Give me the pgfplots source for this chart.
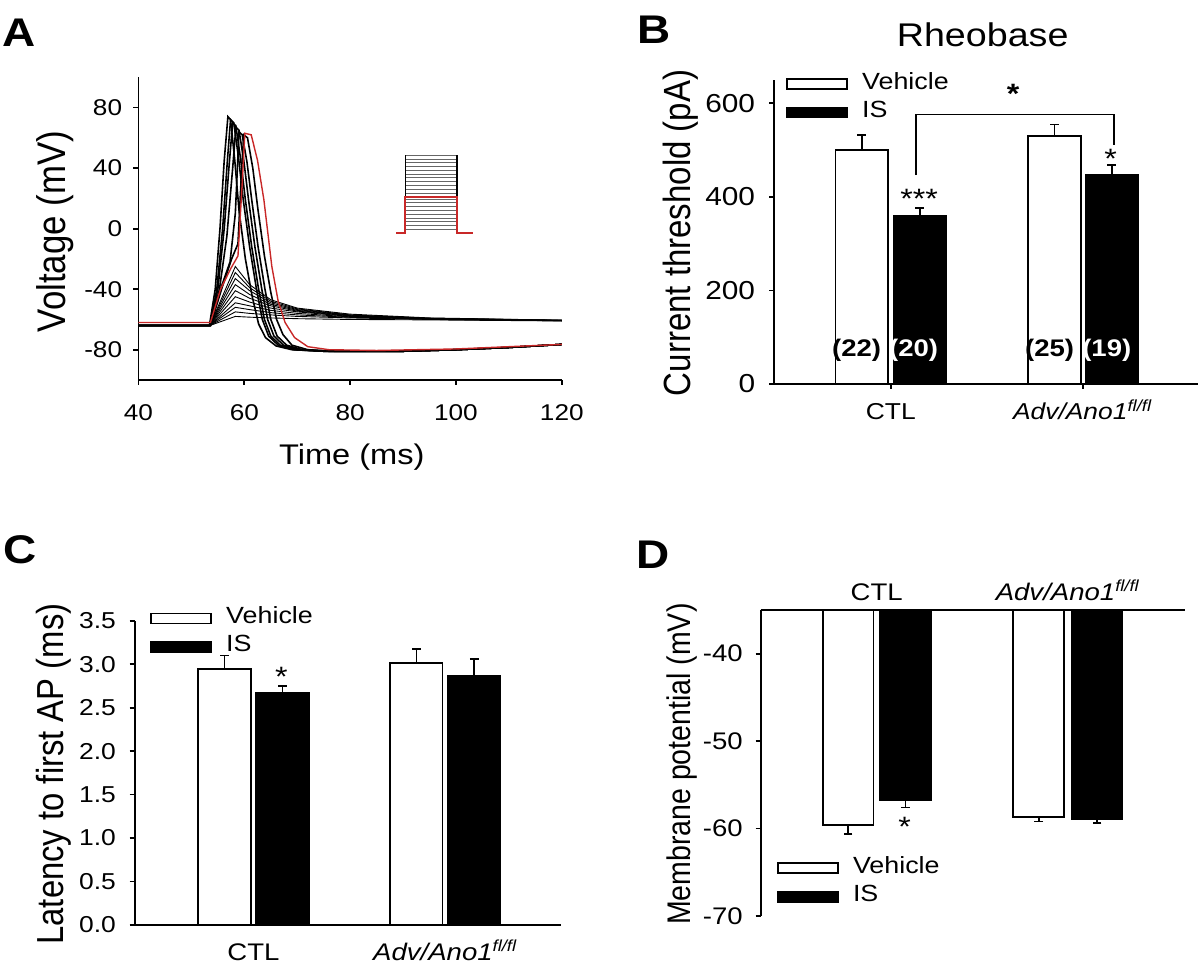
\documentclass[border=0pt]{standalone}
\usepackage{pgfplots}
\pgfplotsset{compat=1.18}
\usepackage{fontspec}
\setmainfont{Liberation Sans}[FakeStretch=1.148]
\newfontfamily\rotfont{Liberation Sans}
\newcommand{\fs}[1]{\fontsize{#1}{#1}\selectfont}
\newcommand{\adv}{\textit{Adv/Ano1}\textsuperscript{\textit{fl/fl}}}
\definecolor{tracered}{RGB}{200,40,40}
\pgfplotsset{
  panel/.style={
    scale only axis,
    axis line style={line width=0.9pt,-},
    every tick/.style={line width=0.9pt,black},
    tick align=outside,
    major tick length=2.5pt,
    /pgf/number format/assume math mode=true,
    legend style={draw=none, fill=none, inner xsep=0pt, inner ysep=0pt,
      nodes={inner sep=0pt, text depth=0pt}, column sep=7pt, row sep=5.5pt,
      font=\fs{11.7}, anchor=north west, cells={anchor=west}},
    legend cell align=left,
  },
  vehleg/.style={legend image code/.code={\draw[fill=white,draw=black,line width=0.9pt] (0pt,-4.1pt) rectangle (30pt,0.9pt);}},
  isleg/.style={legend image code/.code={\draw[fill=black,draw=black,line width=0.9pt] (0pt,-4.1pt) rectangle (30pt,0.9pt);}},
  barbase/.style={ybar, draw=black, line width=0.9pt, forget plot, bar shift=0pt,
    /pgfplots/error bars/y explicit,
    /pgfplots/error bars/error bar style={line width=0.9pt,black},
    /pgfplots/error bars/error mark options={rotate=90,line width=0.9pt,mark size=2.2pt,black}},
  veh/.style={barbase, fill=white, bar width=0.273},
  isb/.style={barbase, fill=black, bar width=0.273},
  sub/.style={black, line width=0.45pt, forget plot},
  supra/.style={black, line width=0.8pt, forget plot},
}
\begin{document}
\begin{tikzpicture}
\useasboundingbox (0pt,0pt) rectangle (600pt,486pt);
% ---------------- Panel A ----------------
\begin{axis}[panel, at={(69.25pt,296pt)}, anchor=south west, width=211.65pt, height=151.35pt,
  xmin=40, xmax=120, ymin=-100, ymax=100,
  axis x line*=bottom, axis y line*=left,
  xtick={40,60,80,100,120}, ytick={-80,-40,0,40,80},
  tick label style={font=\fs{11.4}},
  xticklabel style={anchor=base, yshift=-18pt},
  yticklabel style={anchor=east, inner sep=0pt, xshift=-5.5pt},
  xlabel={Time (ms)}, ylabel={Voltage (mV)},
  xlabel style={at={(axis description cs:0.504,-0.254)}, anchor=center, font=\fs{14.2}},
  ylabel style={at={(axis description cs:-0.196,0.49)}, anchor=center, font=\rotfont\fs{17.4}, yscale=1.148},
]
\addplot[sub] coordinates {(40,-64)(53.5,-64)(58.3,-25)(61,-37)(65,-47)(70,-52.5)(80,-56.5)(95,-59)(120,-60.5)};
\addplot[sub] coordinates {(40,-64)(53.5,-64)(58.3,-29)(61,-39)(65,-48)(70,-53)(80,-57)(95,-59.2)(120,-60.5)};
\addplot[sub] coordinates {(40,-64)(53.5,-64)(58.3,-33)(61,-41)(65,-49)(70,-53.5)(80,-57.2)(95,-59.3)(120,-60.6)};
\addplot[sub] coordinates {(40,-64)(53.5,-64)(58.3,-37)(61,-43.5)(65,-50)(70,-54)(80,-57.5)(95,-59.4)(120,-60.6)};
\addplot[sub] coordinates {(40,-64)(53.5,-64)(58.3,-41)(61,-46)(65,-51)(70,-54.5)(80,-57.7)(95,-59.5)(120,-60.7)};
\addplot[sub] coordinates {(40,-64)(53.5,-64)(58.3,-45)(61,-48.5)(65,-52.5)(70,-55)(80,-58)(95,-59.6)(120,-60.7)};
\addplot[sub] coordinates {(40,-64)(53.5,-64)(58.3,-49)(61,-51)(65,-54)(70,-56)(80,-58.3)(95,-59.7)(120,-60.8)};
\addplot[sub] coordinates {(40,-64)(53.5,-64)(58.3,-52)(61,-53.5)(65,-55.5)(70,-57)(80,-58.6)(95,-59.8)(120,-60.8)};
\addplot[sub] coordinates {(40,-64)(53.5,-64)(58.3,-55)(61,-56)(65,-57)(70,-58)(80,-59)(95,-60)(120,-60.9)};
\addplot[sub] coordinates {(40,-64)(53.5,-64)(58.3,-58)(61,-58.5)(65,-59)(70,-59.5)(80,-60)(95,-60.3)(120,-61)};
\addplot[supra] coordinates {(40,-64)(53.4,-64)(54.5,-40)(55.4,0)(56.2,45)(56.9,74)(57.4,72)(58.2,45)(59,12)(60.2,-20)(61.5,-45)(62.7,-63)(64,-72)(66,-77.5)(69,-80)(75,-81)(90,-81)(100,-80)(110,-78.5)(120,-76.5)};
\addplot[supra] coordinates {(40,-64)(53.5,-64)(54.8,-40)(55.9,0)(56.8,45)(57.4,72)(58,70)(58.9,47)(59.8,19)(61,-12)(62.3,-40)(63.4,-60)(64.6,-71)(66.4,-77)(69.4,-80)(75,-81)(90,-81)(100,-80)(110,-78.5)(120,-76.5)};
\addplot[supra] coordinates {(40,-64)(53.5,-64)(55,-40)(56.2,0)(57.2,45)(57.8,70)(58.4,68)(59.3,46)(60.2,19)(61.4,-12)(62.7,-40)(63.8,-60)(65,-71)(66.8,-77)(69.8,-80)(75,-81)(90,-81)(100,-80)(110,-78.5)(120,-76.5)};
\addplot[supra] coordinates {(40,-64)(53.6,-64)(55.3,-40)(56.7,-5)(57.8,40)(58.4,67)(59,65)(59.9,45)(60.8,19)(62,-12)(63.3,-40)(64.4,-60)(65.6,-71)(67.4,-77)(70.4,-80)(76,-81)(90,-81)(100,-80)(110,-78.5)(120,-76.5)};
\addplot[supra] coordinates {(40,-64)(53.6,-64)(55.5,-40)(57.3,-22)(58.3,10)(59,64)(59.6,62)(60.5,44)(61.4,19)(62.6,-12)(63.9,-40)(65,-60)(66.2,-71)(68,-77)(71,-80)(76,-81)(90,-81)(100,-80)(110,-78.5)(120,-76.5)};
\addplot[supra] coordinates {(40,-64)(53.6,-64)(55.7,-40)(57.6,-20)(58.8,-10)(59.5,40)(59.9,62)(60.6,60)(61.6,40)(62.6,12)(63.8,-18)(65,-42)(66.1,-60)(67.3,-70)(69,-77)(72,-80)(77,-81)(90,-81)(100,-80)(110,-78.5)(120,-76.5)};
\addplot[tracered, line width=0.7pt, forget plot] coordinates {(40,-62)(53.6,-62)(55.5,-40)(57.5,-26)(58.8,-18)(59.6,30)(60.1,63)(61.3,62)(62.5,45)(63.7,19)(65.2,-25)(66.4,-48)(67.7,-62)(69.5,-72)(72,-78)(76,-80)(85,-80.5)(100,-79.5)(110,-78)(120,-76.5)};
% inset: stimulus protocol
\pgfplotsinvokeforeach{-0.5,2,4.5,7,9.5,12,14.5,17,19.5,23.5,26,28.5,31,33.5,36,38.5,41,43.5,46,48.5}{
  \addplot[black!60, line width=0.5pt, forget plot] coordinates {(90.4,#1)(100.2,#1)};
}
\addplot[black, line width=0.6pt, forget plot] coordinates {(90.4,21)(90.4,48.5)};
\addplot[black, line width=0.6pt, forget plot] coordinates {(100.2,21)(100.2,48.5)};
\addplot[tracered, line width=0.8pt, forget plot] coordinates {(88.7,-3)(90.4,-3)(90.4,21)(100.2,21)(100.2,-3)(103.3,-3)};
\end{axis}
% ---------------- Panel B ----------------
\begin{axis}[panel, at={(387.05pt,294pt)}, anchor=south west, width=211.95pt, height=152pt,
  xmin=0.392, xmax=2.6, ymin=0, ymax=650, clip=false,
  axis x line*=bottom, axis y line*=left,
  xtick={1,2}, xticklabels={CTL,\adv},
  ytick={0,200,400,600},
  tick label style={font=\fs{13}},
  xticklabel style={anchor=base, yshift=-15.5pt, font=\fs{11.5}},
  yticklabel style={anchor=east, inner sep=0pt, xshift=-6.8pt},
  ylabel={Current threshold (pA)},
  ylabel style={at={(axis description cs:-0.221,0.497)}, anchor=center, font=\rotfont\fs{16.5}, yscale=1.148},
  title={Rheobase}, every axis title shift=0pt,
  title style={at={(axis description cs:0.492,1.148)}, anchor=center, font=\fs{16.4}},
  legend style={at={(axis description cs:0.028,1.026)}},
]
\addlegendimage{vehleg}\addlegendentry{Vehicle}
\addlegendimage{isleg}\addlegendentry{IS}
\addplot[veh, /pgfplots/error bars/y dir=plus] coordinates {(0.848,500) +- (0,32) (1.852,531) +- (0,24)};
\addplot[isb, /pgfplots/error bars/y dir=plus] coordinates {(1.15,359) +- (0,18) (2.151,447) +- (0,21)};
\node[font=\fs{12}\bfseries] at (axis cs:0.822,72.6) {(22)};
\node[font=\fs{12}\bfseries, text=white] at (axis cs:1.119,72.6) {(20)};
\node[font=\fs{12}\bfseries] at (axis cs:1.827,72.6) {(25)};
\node[font=\fs{12}\bfseries, text=white] at (axis cs:2.125,72.6) {(19)};
\draw[line width=0.9pt] (axis cs:1.13,446.6) -- (axis cs:1.13,576.3) -- (axis cs:2.161,576.3) -- (axis cs:2.161,510.7);
\node[font=\fs{14}, anchor=north, inner sep=0pt] at (axis cs:1.148,418.2) {***};
\node[font=\fs{14}, anchor=north, inner sep=0pt] at (axis cs:2.145,503.6) {*};
\node[font=\fs{14}\bfseries, anchor=north, inner sep=0pt] at (axis cs:1.637,642.5) {*};
\end{axis}
% ---------------- Panel C ----------------
\begin{axis}[panel, at={(67.35pt,23.5pt)}, anchor=south west, width=213pt, height=152.15pt,
  xmin=0.381, xmax=2.601, ymin=0, ymax=3.5, clip=false,
  axis x line*=bottom, axis y line*=left,
  xtick={1,2}, xticklabels={CTL,\adv}, xtick style={draw=none},
  ytick={0,0.5,1,1.5,2,2.5,3,3.5},
  /pgf/number format/fixed, /pgf/number format/fixed zerofill, /pgf/number format/precision=1,
  tick label style={font=\fs{11.5}},
  xticklabel style={anchor=base, yshift=-15.1pt, font=\fs{12}},
  yticklabel style={anchor=east, inner sep=0pt, xshift=-6.7pt},
  ylabel={Latency to first AP (ms)},
  ylabel style={at={(axis description cs:-0.190,0.496)}, anchor=center, font=\rotfont\fs{16.4}, yscale=1.148},
  legend style={at={(axis description cs:0.036,1.047)}},
]
\addlegendimage{vehleg}\addlegendentry{Vehicle}
\addlegendimage{isleg}\addlegendentry{IS}
\addplot[veh, /pgfplots/error bars/y dir=plus] coordinates {(0.849,2.94) +- (0,0.16) (1.849,3.01) +- (0,0.16)};
\addplot[isb, /pgfplots/error bars/y dir=plus] coordinates {(1.151,2.67) +- (0,0.08) (2.151,2.87) +- (0,0.19)};
\node[font=\fs{14}, anchor=north, inner sep=0pt] at (axis cs:1.145,2.972) {*};
\end{axis}
% ---------------- Panel D ----------------
\begin{axis}[panel, at={(380.35pt,28pt)}, anchor=south west, width=212.05pt, height=153pt,
  xmin=0.393, xmax=2.611, ymin=-70, ymax=-35,
  axis x line*=top, axis y line*=left,
  xtick={1,2}, xticklabels={CTL,\adv}, xtick style={draw=none},
  ytick={-70,-60,-50,-40},
  tick label style={font=\fs{12}},
  xticklabel style={anchor=base, yshift=2.3pt, font=\fs{12}},
  yticklabel style={anchor=east, inner sep=0pt, xshift=-6.3pt},
  ylabel={Membrane potential (mV)},
  ylabel style={at={(axis description cs:-0.185,0.496)}, anchor=center, font=\rotfont\fs{14.25}, yscale=1.148},
  legend style={at={(axis description cs:0.038,0.195)}},
]
\addlegendimage{vehleg}\addlegendentry{Vehicle}
\addlegendimage{isleg}\addlegendentry{IS}
\addplot[veh, bar width=0.266, /pgfplots/error bars/y dir=minus] coordinates {(0.85,-59.6) +- (0,1.0) (1.847,-58.7) +- (0,0.5)};
\addplot[isb, bar width=0.266, /pgfplots/error bars/y dir=minus] coordinates {(1.15,-56.8) +- (0,0.8) (2.152,-58.9) +- (0,0.5)};
\node[font=\fs{14}, anchor=north, inner sep=0pt] at (axis cs:1.146,-58.67) {*};
\end{axis}
% panel letters
\node[font=\fs{20}\bfseries] at (9.5pt,469.5pt) {A};
\node[font=\fs{20}\bfseries] at (326.8pt,471pt) {B};
\node[font=\fs{20}\bfseries] at (10pt,211pt) {C};
\node[font=\fs{20}\bfseries] at (326.3pt,208.5pt) {D};
\end{tikzpicture}
\end{document}
